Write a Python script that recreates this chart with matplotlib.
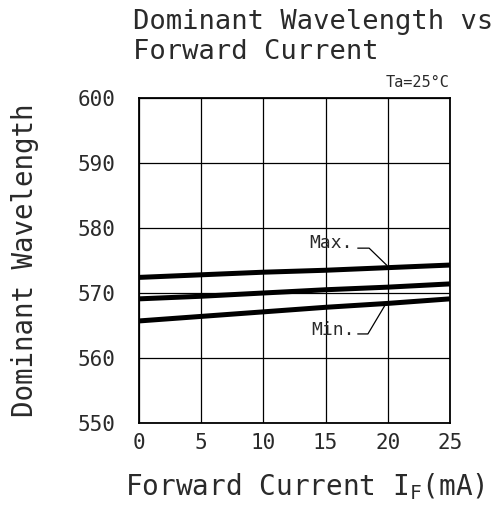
import matplotlib
matplotlib.use("Agg")
import matplotlib.pyplot as plt

# Data
current_ma = [0, 5, 10, 15, 20, 25]
wl_max = [572.4, 572.8, 573.2, 573.5, 573.9, 574.3]
wl_typ = [569.1, 569.5, 570.0, 570.5, 570.9, 571.4]
wl_min = [565.7, 566.4, 567.1, 567.8, 568.4, 569.1]
x_ticks = [0, 5, 10, 15, 20, 25]
y_ticks = [550, 560, 570, 580, 590, 600]

FONT = "DejaVu Sans Mono"
plt.rcParams["font.family"] = [FONT]
plt.rcParams["mathtext.fontset"] = "custom"
plt.rcParams["mathtext.rm"] = FONT
plt.rcParams["mathtext.it"] = FONT

TXT = "#2a2a2a"
W, H = 496, 513
fig = plt.figure(figsize=(W / 100, H / 100), dpi=100)
ax = fig.add_axes([139 / W, 1 - 423 / H, (450 - 139) / W, (423 - 98) / H])

for ys in (wl_max, wl_typ, wl_min):
    ax.plot(current_ma, ys, color="black", lw=3.6, solid_capstyle="butt", zorder=3)

ax.set_xlim(0, 25)
ax.set_ylim(550, 600)
ax.set_xticks(x_ticks)
ax.set_yticks(y_ticks)
ax.grid(True, color="black", lw=0.9)
ax.tick_params(length=0, labelsize=15, colors=TXT)
ax.tick_params(axis="y", pad=17)
ax.tick_params(axis="x", pad=7)
for s in ax.spines.values():
    s.set_linewidth(1.3)

xl = ax.set_xlabel("Forward Current I$_\\mathregular{F}$(mA)", fontsize=20, color=TXT)
ax.xaxis.set_label_coords(0.535, -0.197)
xl.set_va("center")
ax.set_ylabel("Dominant Wavelength", fontsize=19.8, labelpad=28, color=TXT)

fig.text(133 / W, 1 - 22 / H, "Dominant Wavelength vs", fontsize=19.5, va="center", ha="left", color=TXT)
fig.text(133 / W, 1 - 52 / H, "Forward Current", fontsize=19.5, va="center", ha="left", color=TXT)
fig.text(449 / W, 1 - 83 / H, "Ta=25°C", fontsize=11, va="center", ha="right", color=TXT)

# annotations
ax.text(15.4, 577.7, "Max.", fontsize=13, ha="center", va="center", color=TXT)
ax.plot([17.6, 18.5, 19.9], [576.9, 576.9, 574.3], color="black", lw=0.9, zorder=4)
ax.text(15.6, 564.3, "Min.", fontsize=13, ha="center", va="center", color=TXT)
ax.plot([17.6, 18.4, 19.8], [563.7, 563.7, 568.2], color="black", lw=0.9, zorder=4)

fig.savefig("out.png", dpi=100, facecolor="white")
